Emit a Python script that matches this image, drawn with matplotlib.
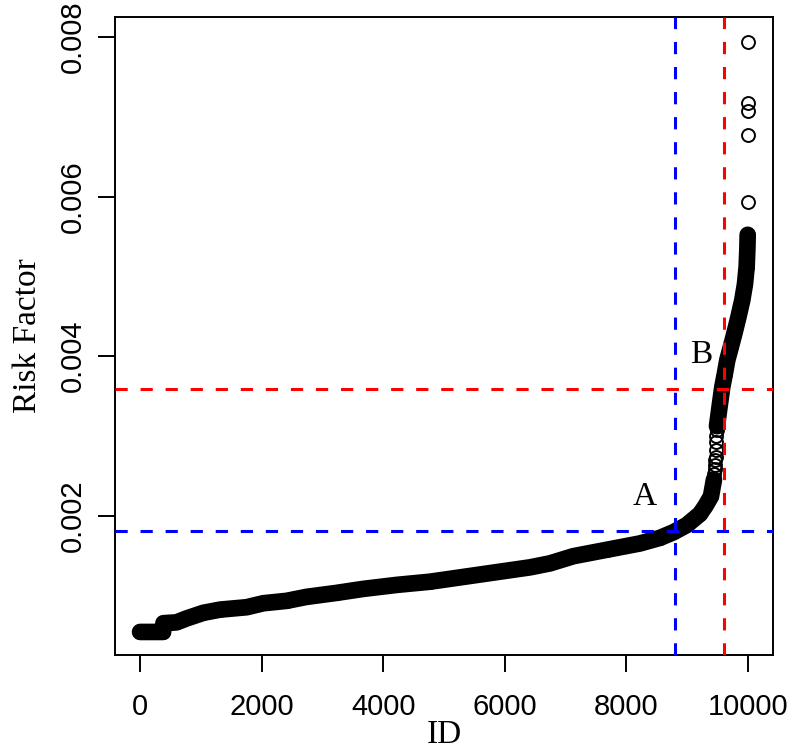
import matplotlib
matplotlib.use("Agg")
import matplotlib.pyplot as plt

# sorted risk factor per ID
main_ids = [1, 150, 300, 380, 385, 600, 768, 1042, 1316, 1754, 2028, 2412, 2741,
            3235, 3673, 4222, 4770, 5318, 5866, 6414, 6743, 7127, 7675, 8224,
            8553, 8772, 8991, 9211, 9300, 9391, 9440]
main_vals = [0.00054, 0.00054, 0.00054, 0.00054, 0.00065, 0.00066, 0.00071,
             0.00078, 0.00082, 0.00085, 0.00090, 0.00093, 0.00098, 0.00103,
             0.00108, 0.00113, 0.00117, 0.00123, 0.00129, 0.00135, 0.00140,
             0.00149, 0.00157, 0.00165, 0.00172, 0.00179, 0.00188, 0.00202,
             0.00212, 0.00224, 0.00245]

# sparse stretch of the steep part
sparse_ids = [9445, 9452, 9458, 9463, 9468, 9472, 9476, 9480, 9485]
sparse_vals = [0.00252, 0.00258, 0.00263, 0.00269, 0.00274, 0.00282, 0.00292,
               0.00300, 0.00307]

upper_ids = [9490, 9530, 9577, 9620, 9660, 9720, 9775, 9840, 9906, 9950, 9978,
             9990, 9995]
upper_vals = [0.00312, 0.00335, 0.00361, 0.00378, 0.00395, 0.00412, 0.00428,
              0.00448, 0.00470, 0.00490, 0.00512, 0.00535, 0.00552]

outlier_ids = [9996, 9997, 9998, 9999, 10000]
outlier_vals = [0.00593, 0.00677, 0.00707, 0.00717, 0.00794]

# thresholds
a_id, a_val = 8800, 0.00181
b_id, b_val = 9600, 0.00359

x_ticks = [0, 2000, 4000, 6000, 8000, 10000]
y_ticks = [0.002, 0.004, 0.006, 0.008]

fig = plt.figure(figsize=(7.89, 7.49), dpi=100)
ax = fig.add_axes([0.1458, 0.1255, 0.8339, 0.8518])

band = dict(color="black", lw=12.0, solid_capstyle="round",
            solid_joinstyle="round", zorder=2)
ax.plot(main_ids, main_vals, **band)
ax.plot(upper_ids, upper_vals, **band)

circ = dict(ls="none", marker="o", ms=9.3, mfc="none", mec="black", mew=1.4,
            zorder=3)
for xs, ys in [(main_ids, main_vals), (sparse_ids, sparse_vals),
               (upper_ids, upper_vals), (outlier_ids, outlier_vals)]:
    ax.plot(xs, ys, **circ)

dash = (0, (4, 4.2))
ax.axvline(a_id, color="#0000FF", lw=2.2, ls=dash, zorder=4)
ax.axhline(a_val, color="#0000FF", lw=2.2, ls=dash, zorder=4)
ax.axvline(b_id, color="#FF0000", lw=2.2, ls=dash, zorder=4)
ax.axhline(b_val, color="#FF0000", lw=2.2, ls=dash, zorder=4)

ax.text(8306, 0.00223, "A", family="Liberation Serif", fontsize=24,
        ha="center", va="center", zorder=5)
ax.text(9227, 0.00401, "B", family="Liberation Serif", fontsize=24,
        ha="center", va="center", zorder=5)

ax.set_xlim(-411, 10411)
ax.set_ylim(0.000251, 0.008251)
ax.set_xticks(x_ticks)
ax.set_xticklabels([str(t) for t in x_ticks])
ax.set_yticks(y_ticks)
ax.set_yticklabels([f"{t:.3f}" for t in y_ticks])

for s in ax.spines.values():
    s.set_linewidth(1.4)
ax.tick_params(length=12, width=1.4, labelsize=21)
ax.tick_params(axis="x", pad=15)
ax.tick_params(axis="y", labelrotation=90, pad=8)
for lab in ax.get_xticklabels() + ax.get_yticklabels():
    lab.set_family("Liberation Sans")
for lab in ax.get_yticklabels():
    lab.set_va("center")

ax.set_xlabel("ID", family="Liberation Serif", fontsize=24, labelpad=-1)
ax.set_ylabel("Risk Factor", family="Liberation Serif", fontsize=24,
              labelpad=12)

fig.savefig("out.png", dpi=100)
